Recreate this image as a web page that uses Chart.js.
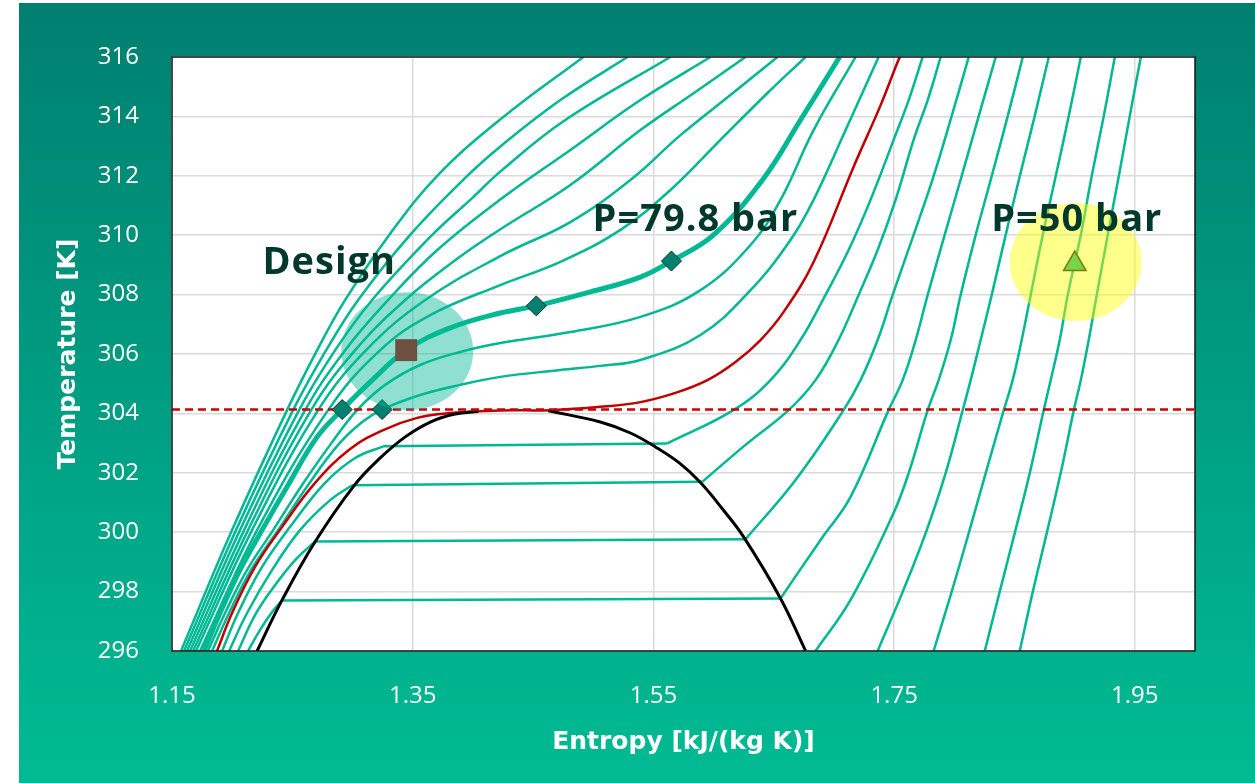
<!DOCTYPE html>
<html>
<head>
<meta charset="utf-8">
<script src="https://cdn.jsdelivr.net/npm/chart.js@4.4.1/dist/chart.umd.min.js"></script>
<style>
  html, body { margin: 0; padding: 0; background: #ffffff; }
  #wrap { width: 1255px; height: 783px; position: relative; }
</style>
</head>
<body>
<div id="wrap"><canvas id="c"></canvas></div>
<script>
// CO2 temperature–entropy diagram near the critical point.
// Every curve is a list of [entropy kJ/(kg K), temperature K] pairs.

const xTicks = [1.15, 1.35, 1.55, 1.75, 1.95];
const tCritical = 304.13;

// saturation dome
const satLiquid = [[1.2207,296.0],[1.2415,297.72],[1.2689,299.68],[1.3013,301.57],[1.3230,302.50],[1.3438,303.21],[1.3646,303.71],[1.3853,303.98],[1.4045,304.06]];
const satVapor = [[1.4627,304.09],[1.5059,303.71],[1.5309,303.34],[1.5517,302.87],[1.5725,302.30],[1.5891,301.67],[1.6074,300.78],[1.6248,299.85],[1.6556,297.77],[1.6764,296.01]];

// critical isobar
const isoCritical = [[1.1874,296.0],[1.1999,297.28],[1.2190,298.83],[1.2415,300.18],[1.2689,301.66],[1.2980,302.80],[1.3255,303.44],[1.3537,303.85],[1.3812,304.01],[1.4228,304.10],[1.4643,304.11],[1.5059,304.22],[1.5392,304.38],[1.5683,304.69],[1.5949,305.12],[1.6182,305.73],[1.6390,306.47],[1.6581,307.41],[1.6831,309.10],[1.7163,312.30],[1.7388,314.38],[1.7529,315.83],[1.7560,316.10]];

// supercritical isobars (highest pressure first)
const isoS1 = [[1.1575,296],[1.1999,300.07],[1.2456,304.11],[1.2706,306.13],[1.2939,307.82],[1.3305,310.01],[1.3712,312.03],[1.4244,313.95],[1.4918,316]];
const isoS2 = [[1.1600,296],[1.2032,300.07],[1.2506,304.11],[1.2781,306.13],[1.3047,307.82],[1.3479,310.01],[1.3962,312.03],[1.4244,313.04],[1.4727,314.55],[1.5284,316]];
const isoS3 = [[1.1625,296],[1.2065,300.07],[1.2556,304.11],[1.2856,306.13],[1.3163,307.82],[1.3662,310.01],[1.3978,311.19],[1.4244,312.20],[1.4768,313.88],[1.5641,316]];
const isoS4 = [[1.1650,296],[1.2099,300.07],[1.2606,304.11],[1.2939,306.13],[1.3296,307.82],[1.3704,309.50],[1.4244,311.25],[1.4810,312.87],[1.5392,314.55],[1.5974,316]];
const isoS5 = [[1.1675,296],[1.2132,300.07],[1.2656,304.11],[1.3022,306.13],[1.3438,307.82],[1.3878,309.23],[1.4244,310.24],[1.4810,311.69],[1.5392,313.54],[1.5849,314.82],[1.6265,316]];
const isoS6 = [[1.1700,296],[1.2165,300.07],[1.2714,304.11],[1.3113,306.13],[1.3604,307.82],[1.4244,309.33],[1.4810,310.44],[1.5309,311.86],[1.5725,313.37],[1.6140,314.72],[1.6531,316]];
const isoS7 = [[1.1733,296],[1.2207,300.07],[1.2797,304.11],[1.3230,306.13],[1.3646,307.31],[1.4228,308.32],[1.4727,309.10],[1.5226,310.18],[1.5641,311.52],[1.6057,313.21],[1.6431,314.72],[1.6764,316]];
const iso798 = [[1.1766,296],[1.1899,297.28],[1.2065,298.73],[1.2248,300.07],[1.2465,301.59],[1.2706,303.21],[1.2914,304.13],[1.3163,305.12],[1.3446,306.13],[1.3812,306.88],[1.4228,307.38],[1.4527,307.62],[1.4976,308.09],[1.5392,308.59],[1.5650,309.13],[1.6000,310.01],[1.6406,311.86],[1.6722,313.88],[1.7047,316]];
const isoS9 = [[1.1799,296],[1.1941,297.28],[1.2124,298.73],[1.2340,300.07],[1.2581,301.59],[1.2814,302.94],[1.3038,304.11],[1.3271,304.96],[1.3562,305.63],[1.3895,306.07],[1.4228,306.37],[1.4810,306.74],[1.5392,307.25],[1.5891,308.15],[1.6307,309.67],[1.6556,311.19],[1.6831,313.54],[1.7180,316]];
const isoS10 = [[1.1833,296],[1.1974,297.28],[1.2157,298.73],[1.2381,300.07],[1.2631,301.59],[1.2880,302.94],[1.3080,303.71],[1.3246,304.13],[1.3562,304.62],[1.3895,304.96],[1.4228,305.23],[1.4727,305.46],[1.5059,305.60],[1.5392,305.80],[1.5891,306.64],[1.6307,308.15],[1.6639,309.84],[1.6831,311.19],[1.7097,313.54],[1.7371,316]];

// subcritical isobars: liquid branch, then vapour branch (the two-phase part joins them)
const sub1Liquid = [[1.1916,296.0],[1.2049,297.28],[1.2248,298.83],[1.2481,300.18],[1.2772,301.66],[1.3022,302.50],[1.3255,302.89]];
const sub1Vapor = [[1.5616,302.99],[1.6165,304.11],[1.6473,305.12],[1.6722,306.47],[1.6930,307.99],[1.7122,309.50],[1.7304,311.19],[1.7496,313.21],[1.7621,314.55],[1.7737,316.0]];
const sub2Liquid = [[1.1974,296.0],[1.2124,297.28],[1.2332,298.73],[1.2564,300.07],[1.2814,301.08],[1.2997,301.58]];
const sub2Vapor = [[1.5907,301.70],[1.6265,302.94],[1.6623,304.11],[1.6847,305.12],[1.7038,306.47],[1.7205,307.99],[1.7363,309.50],[1.7512,311.19],[1.7662,313.21],[1.7779,314.55],[1.7887,316.0]];
const sub3Liquid = [[1.2049,296.0],[1.2190,297.21],[1.2357,298.22],[1.2523,299.06],[1.2689,299.69]];
const sub3Vapor = [[1.6265,299.76],[1.6681,301.76],[1.7080,304.11],[1.7221,305.12],[1.7363,306.47],[1.7488,307.99],[1.7662,310.01],[1.7828,311.99],[1.7978,314.01],[1.8120,316.0]];
const sub4Liquid = [[1.2132,296.0],[1.2232,296.71],[1.2332,297.31],[1.2415,297.70]];
const sub4Vapor = [[1.6556,297.77],[1.6889,299.74],[1.7138,301.19],[1.7454,304.11],[1.7571,305.12],[1.7679,306.47],[1.7779,307.99],[1.7920,310.01],[1.8061,311.99],[1.8203,314.01],[1.8344,316.0]];

// low-pressure isobars (vapour only in this range)
const isoC = [[1.6847,296.0],[1.7138,297.72],[1.7496,300.65],[1.7621,301.99],[1.7779,304.11],[1.7870,305.12],[1.7970,306.47],[1.8053,307.99],[1.8178,310.01],[1.8311,311.99],[1.8444,314.01],[1.8569,316]];
const isoD = [[1.7363,296.0],[1.7571,297.99],[1.7762,299.97],[1.7928,301.99],[1.8070,304.11],[1.8136,305.12],[1.8219,306.47],[1.8311,307.99],[1.8427,310.01],[1.8544,311.99],[1.8668,314.01],[1.8785,316]];
const isoE = [[1.7828,296],[1.7978,297.99],[1.8120,299.97],[1.8261,301.99],[1.8411,304.11],[1.8485,305.12],[1.8560,306.47],[1.8635,307.99],[1.8735,310.01],[1.8843,311.99],[1.8951,314.01],[1.9051,316]];
const iso50 = [[1.8253,296],[1.8377,297.99],[1.8502,299.97],[1.8627,301.99],[1.8743,304.11],[1.8801,305.12],[1.8876,306.47],[1.8943,307.99],[1.9051,310.01],[1.9142,311.99],[1.9242,314.01],[1.9334,316]];
const isoG = [[1.8544,296],[1.8652,297.99],[1.8768,299.97],[1.8884,301.99],[1.8993,304.11],[1.9051,305.12],[1.9117,306.47],[1.9184,307.99],[1.9275,310.01],[1.9367,311.99],[1.9458,314.01],[1.9550,316]];

// marked states
const criticalMarks = [[1.2914, 304.13], [1.3246, 304.13]];
const p798Marks = [[1.4527, 307.62], [1.5650, 309.13]];
const designPoint = [1.3446, 306.13];
const p50Point = [1.9001, 309.03];

const TEAL = '#00b894';
const RED = '#c00000';
const xy = arr => arr.map(([x, y]) => ({ x, y }));

function curve(arr, color, width, extra) {
  return Object.assign({
    data: xy(arr), showLine: true, borderColor: color, borderWidth: width,
    pointRadius: 0, pointHoverRadius: 0, fill: false,
    tension: 0.4, clip: 0
  }, extra || {});
}
function straight(a, b, color, width, extra) {
  return Object.assign({
    data: xy([a, b]), showLine: true, borderColor: color, borderWidth: width,
    pointRadius: 0, pointHoverRadius: 0, fill: false, tension: 0, clip: 0
  }, extra || {});
}

const tealCurves = [isoS1, isoS2, isoS3, isoS4, isoS5, isoS6, isoS7, isoS9, isoS10,
  sub1Liquid, sub1Vapor, sub2Liquid, sub2Vapor, sub3Liquid, sub3Vapor, sub4Liquid, sub4Vapor,
  isoC, isoD, isoE, iso50, isoG];
const twoPhase = [[sub1Liquid, sub1Vapor], [sub2Liquid, sub2Vapor], [sub3Liquid, sub3Vapor], [sub4Liquid, sub4Vapor]];

const datasets = [
  { data: xy(criticalMarks.concat(p798Marks)), showLine: false, pointStyle: 'rectRot', pointRadius: 10,
    pointHoverRadius: 10, backgroundColor: '#00806e', borderColor: '#14302a', borderWidth: 1 },
  { data: xy([designPoint]), showLine: false, pointStyle: 'rect', pointRadius: 15.5, pointHoverRadius: 15.5,
    backgroundColor: RED, borderWidth: 0 },
  { data: xy([p50Point]), showLine: false, pointStyle: 'triangle', pointRadius: 13, pointHoverRadius: 13,
    backgroundColor: '#00b48f', borderColor: '#111111', borderWidth: 1.5 },
  straight([1.15, tCritical], [2.0, tCritical], '#cc0000', 2.5, { borderDash: [8, 5] }),
  curve(satLiquid, '#000000', 3),
  curve(satVapor, '#000000', 3),
  curve(iso798, TEAL, 5),
  curve(isoCritical, RED, 2.5)
];
twoPhase.forEach(([liq, vap]) => datasets.push(straight(liq[liq.length - 1], vap[0], TEAL, 2.5)));
tealCurves.forEach(c => datasets.push(curve(c, TEAL, 2.5)));

const panel = {
  id: 'panel',
  beforeDraw(chart) {
    const { ctx, chartArea: a, width, height } = chart;
    ctx.save();
    ctx.fillStyle = '#ffffff';
    ctx.fillRect(0, 0, width, height);
    const g = ctx.createLinearGradient(0, 3, 0, height);
    g.addColorStop(0, '#007f70');
    g.addColorStop(1, '#00bb94');
    ctx.fillStyle = g;
    ctx.fillRect(19, 3, width - 19, height - 3);
    ctx.fillStyle = '#ffffff';
    ctx.fillRect(a.left, a.top, a.right - a.left, a.bottom - a.top);
    ctx.restore();
  },
  afterDatasetsDraw(chart) {
    const { ctx, chartArea: a, scales: { x, y } } = chart;
    const px = p => ({ x: x.getPixelForValue(p[0]), y: y.getPixelForValue(p[1]) });
    const dp = px(designPoint), tp = px(p50Point), lp = px(p798Marks[1]);
    ctx.save();
    ctx.beginPath();
    ctx.rect(a.left, a.top, a.right - a.left, a.bottom - a.top);
    ctx.clip();
    ctx.fillStyle = 'rgba(0,184,148,0.44)';
    ctx.beginPath();
    ctx.ellipse(dp.x + 1, dp.y + 1, 66, 59, 0, 0, Math.PI * 2);
    ctx.fill();
    ctx.fillStyle = 'rgba(255,255,0,0.45)';
    ctx.beginPath();
    ctx.ellipse(tp.x + 1, tp.y - 2, 66, 59, 0, 0, Math.PI * 2);
    ctx.fill();
    ctx.restore();

    ctx.save();
    ctx.strokeStyle = '#151515';
    ctx.lineWidth = 1.5;
    ctx.strokeRect(a.left, a.top, a.right - a.left, a.bottom - a.top);
    ctx.fillStyle = '#00382c';
    ctx.font = 'bold 38px "Open Sans"';
    ctx.letterSpacing = '1px';
    ctx.textAlign = 'center';
    ctx.textBaseline = 'alphabetic';
    ctx.fillText('Design', dp.x - 77, dp.y - 76);
    ctx.fillText('P=79.8 bar', lp.x + 24, lp.y - 30);
    ctx.fillText('P=50 bar', tp.x + 2, tp.y - 33);
    ctx.restore();
  }
};

new Chart(document.getElementById('c'), {
  type: 'scatter',
  data: { datasets },
  plugins: [panel],
  options: {
    responsive: true,
    maintainAspectRatio: false,
    animation: false,
    devicePixelRatio: 1,
    layout: { padding: { top: 57, right: 60, bottom: 0, left: 0 } },
    plugins: { legend: { display: false }, tooltip: { enabled: false } },
    events: [],
    scales: {
      x: {
        type: 'linear', min: 1.15, max: 2.0,
        afterBuildTicks: s => { s.ticks = xTicks.map(v => ({ value: v })); },
        afterFit: s => { s.height = 132; },
        grid: { color: '#dadada', lineWidth: 1.5, drawTicks: false },
        border: { display: false },
        ticks: {
          color: '#ffffff', padding: 31, autoSkip: false, maxRotation: 0,
          font: { family: 'Open Sans', size: 24 },
          callback: v => Number(v).toFixed(2)
        },
        title: {
          display: true, text: 'Entropy [kJ/(kg K)]', color: '#ffffff',
          font: { family: 'DejaVu Sans', size: 25, weight: 'bold' },
          padding: { top: 0, bottom: 26 }
        }
      },
      y: {
        type: 'linear', min: 296, max: 316,
        afterFit: s => { s.width = 172; },
        grid: { color: '#dadada', lineWidth: 1.5, drawTicks: false },
        border: { display: false },
        ticks: {
          color: '#ffffff', padding: 33, stepSize: 2,
          font: { family: 'Open Sans', size: 24 },
          callback: v => String(v)
        },
        title: {
          display: true, text: 'Temperature [K]', color: '#ffffff',
          font: { family: 'DejaVu Sans', size: 25, weight: 'bold' },
          padding: { top: 53, bottom: 0 }
        }
      }
    }
  }
});
</script>
</body>
</html>
